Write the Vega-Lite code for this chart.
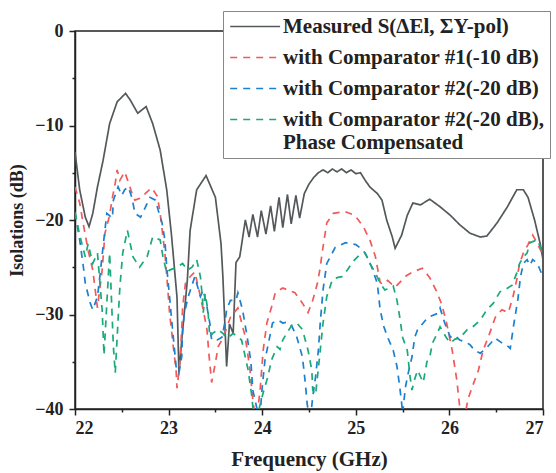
{
  "$schema": "https://vega.github.io/schema/vega-lite/v6.json",
  "width": 468,
  "height": 378,
  "autosize": {"type": "none"},
  "padding": {"left": 75, "top": 31, "right": 13, "bottom": 64},
  "background": "white",
  "config": {
    "view": {"stroke": "#222", "strokeWidth": 1.5},
    "font": "Liberation Serif"
  },
  "data": {"values": [
    {"s":"A","f":22.00,"v":-12.8},{"s":"A","f":22.05,"v":-16.8},{"s":"A","f":22.11,"v":-19.7},{"s":"A","f":22.15,"v":-20.7},{"s":"A","f":22.19,"v":-19.3},{"s":"A","f":22.24,"v":-16.5},{"s":"A","f":22.30,"v":-13.7},{"s":"A","f":22.37,"v":-9.8},{"s":"A","f":22.45,"v":-7.5},{"s":"A","f":22.54,"v":-6.6},{"s":"A","f":22.59,"v":-7.3},{"s":"A","f":22.67,"v":-8.7},{"s":"A","f":22.76,"v":-8.0},{"s":"A","f":22.83,"v":-9.8},{"s":"A","f":22.91,"v":-12.6},{"s":"A","f":22.98,"v":-16.8},{"s":"A","f":23.03,"v":-21.5},{"s":"A","f":23.09,"v":-28.2},{"s":"A","f":23.11,"v":-36.1},{"s":"A","f":23.15,"v":-31.7},{"s":"A","f":23.20,"v":-26.4},{"s":"A","f":23.23,"v":-21.1},{"s":"A","f":23.30,"v":-16.8},{"s":"A","f":23.40,"v":-15.3},{"s":"A","f":23.50,"v":-17.6},{"s":"A","f":23.56,"v":-22.5},{"s":"A","f":23.58,"v":-26.0},{"s":"A","f":23.62,"v":-35.5},{"s":"A","f":23.65,"v":-31.0},{"s":"A","f":23.69,"v":-32.0},{"s":"A","f":23.72,"v":-24.5},{"s":"A","f":23.76,"v":-23.9},{"s":"A","f":23.82,"v":-20.0},{"s":"A","f":23.86,"v":-21.8},{"s":"A","f":23.90,"v":-19.4},{"s":"A","f":23.95,"v":-21.8},{"s":"A","f":23.99,"v":-19.0},{"s":"A","f":24.04,"v":-21.5},{"s":"A","f":24.09,"v":-18.5},{"s":"A","f":24.13,"v":-21.2},{"s":"A","f":24.18,"v":-17.6},{"s":"A","f":24.22,"v":-20.8},{"s":"A","f":24.27,"v":-17.3},{"s":"A","f":24.31,"v":-20.4},{"s":"A","f":24.36,"v":-17.4},{"s":"A","f":24.40,"v":-19.8},{"s":"A","f":24.45,"v":-17.2},{"s":"A","f":24.50,"v":-16.2},{"s":"A","f":24.55,"v":-15.5},{"s":"A","f":24.60,"v":-15.0},{"s":"A","f":24.65,"v":-14.7},{"s":"A","f":24.70,"v":-15.0},{"s":"A","f":24.75,"v":-14.6},{"s":"A","f":24.80,"v":-14.9},{"s":"A","f":24.85,"v":-14.6},{"s":"A","f":24.90,"v":-15.0},{"s":"A","f":24.95,"v":-14.7},{"s":"A","f":25.00,"v":-15.1},{"s":"A","f":25.05,"v":-15.0},{"s":"A","f":25.10,"v":-15.8},{"s":"A","f":25.15,"v":-16.5},{"s":"A","f":25.23,"v":-17.2},{"s":"A","f":25.28,"v":-17.9},{"s":"A","f":25.33,"v":-20.0},{"s":"A","f":25.39,"v":-21.8},{"s":"A","f":25.42,"v":-23.0},{"s":"A","f":25.45,"v":-22.4},{"s":"A","f":25.49,"v":-21.6},{"s":"A","f":25.55,"v":-19.5},{"s":"A","f":25.61,"v":-18.2},{"s":"A","f":25.69,"v":-18.4},{"s":"A","f":25.79,"v":-17.8},{"s":"A","f":25.90,"v":-18.6},{"s":"A","f":26.01,"v":-19.5},{"s":"A","f":26.11,"v":-20.5},{"s":"A","f":26.22,"v":-21.4},{"s":"A","f":26.33,"v":-21.8},{"s":"A","f":26.40,"v":-21.7},{"s":"A","f":26.51,"v":-20.3},{"s":"A","f":26.62,"v":-18.6},{"s":"A","f":26.72,"v":-16.8},{"s":"A","f":26.79,"v":-16.8},{"s":"A","f":26.84,"v":-17.6},{"s":"A","f":26.91,"v":-20.0},{"s":"A","f":26.97,"v":-22.5},{"s":"A","f":27.00,"v":-24.2},
    {"s":"B","f":22.00,"v":-16.5},{"s":"B","f":22.05,"v":-18.2},{"s":"B","f":22.09,"v":-20.5},{"s":"B","f":22.14,"v":-23.2},{"s":"B","f":22.19,"v":-25.3},{"s":"B","f":22.24,"v":-29.3},{"s":"B","f":22.29,"v":-25.3},{"s":"B","f":22.32,"v":-21.4},{"s":"B","f":22.37,"v":-19.5},{"s":"B","f":22.40,"v":-17.6},{"s":"B","f":22.43,"v":-16.1},{"s":"B","f":22.45,"v":-14.7},{"s":"B","f":22.48,"v":-15.8},{"s":"B","f":22.53,"v":-14.9},{"s":"B","f":22.57,"v":-16.0},{"s":"B","f":22.61,"v":-17.2},{"s":"B","f":22.64,"v":-17.9},{"s":"B","f":22.72,"v":-17.6},{"s":"B","f":22.75,"v":-17.2},{"s":"B","f":22.82,"v":-16.6},{"s":"B","f":22.88,"v":-17.5},{"s":"B","f":22.91,"v":-19.3},{"s":"B","f":22.94,"v":-21.8},{"s":"B","f":22.96,"v":-23.5},{"s":"B","f":22.99,"v":-27.1},{"s":"B","f":23.01,"v":-29.8},{"s":"B","f":23.05,"v":-33.4},{"s":"B","f":23.08,"v":-35.9},{"s":"B","f":23.09,"v":-37.8},{"s":"B","f":23.12,"v":-35.1},{"s":"B","f":23.14,"v":-31.6},{"s":"B","f":23.15,"v":-29.2},{"s":"B","f":23.18,"v":-26.7},{"s":"B","f":23.23,"v":-26.0},{"s":"B","f":23.28,"v":-25.5},{"s":"B","f":23.34,"v":-28.1},{"s":"B","f":23.37,"v":-29.5},{"s":"B","f":23.41,"v":-31.6},{"s":"B","f":23.43,"v":-34.1},{"s":"B","f":23.46,"v":-37.2},{"s":"B","f":23.50,"v":-35.1},{"s":"B","f":23.53,"v":-33.4},{"s":"B","f":23.57,"v":-32.7},{"s":"B","f":23.60,"v":-32.0},{"s":"B","f":23.66,"v":-30.3},{"s":"B","f":23.74,"v":-29.3},{"s":"B","f":23.82,"v":-32.4},{"s":"B","f":23.87,"v":-35.9},{"s":"B","f":23.90,"v":-39.0},{"s":"B","f":23.93,"v":-41.5},{"s":"B","f":23.96,"v":-39.5},{"s":"B","f":23.98,"v":-37.7},{"s":"B","f":24.01,"v":-33.8},{"s":"B","f":24.05,"v":-30.9},{"s":"B","f":24.10,"v":-29.2},{"s":"B","f":24.14,"v":-27.7},{"s":"B","f":24.22,"v":-27.2},{"s":"B","f":24.35,"v":-27.7},{"s":"B","f":24.43,"v":-28.8},{"s":"B","f":24.49,"v":-29.8},{"s":"B","f":24.54,"v":-28.5},{"s":"B","f":24.59,"v":-26.7},{"s":"B","f":24.62,"v":-25.0},{"s":"B","f":24.64,"v":-23.5},{"s":"B","f":24.69,"v":-20.3},{"s":"B","f":24.76,"v":-19.3},{"s":"B","f":24.88,"v":-19.1},{"s":"B","f":24.99,"v":-19.5},{"s":"B","f":25.08,"v":-20.7},{"s":"B","f":25.15,"v":-22.1},{"s":"B","f":25.21,"v":-23.9},{"s":"B","f":25.26,"v":-26.6},{"s":"B","f":25.29,"v":-26.8},{"s":"B","f":25.34,"v":-26.4},{"s":"B","f":25.42,"v":-27.1},{"s":"B","f":25.47,"v":-26.6},{"s":"B","f":25.54,"v":-25.9},{"s":"B","f":25.61,"v":-25.5},{"s":"B","f":25.71,"v":-25.1},{"s":"B","f":25.79,"v":-26.1},{"s":"B","f":25.87,"v":-27.7},{"s":"B","f":25.92,"v":-29.0},{"s":"B","f":25.97,"v":-30.9},{"s":"B","f":26.03,"v":-33.8},{"s":"B","f":26.08,"v":-37.0},{"s":"B","f":26.11,"v":-39.8},{"s":"B","f":26.15,"v":-41.5},{"s":"B","f":26.20,"v":-38.9},{"s":"B","f":26.25,"v":-37.5},{"s":"B","f":26.31,"v":-35.9},{"s":"B","f":26.36,"v":-33.8},{"s":"B","f":26.43,"v":-32.0},{"s":"B","f":26.49,"v":-30.3},{"s":"B","f":26.56,"v":-29.5},{"s":"B","f":26.63,"v":-29.8},{"s":"B","f":26.68,"v":-28.1},{"s":"B","f":26.72,"v":-26.3},{"s":"B","f":26.75,"v":-24.6},{"s":"B","f":26.79,"v":-23.5},{"s":"B","f":26.84,"v":-22.6},{"s":"B","f":26.89,"v":-21.6},{"s":"B","f":26.94,"v":-22.5},{"s":"B","f":26.99,"v":-23.5},
    {"s":"C","f":22.00,"v":-19.2},{"s":"C","f":22.05,"v":-22.1},{"s":"C","f":22.09,"v":-25.0},{"s":"C","f":22.11,"v":-26.7},{"s":"C","f":22.16,"v":-28.7},{"s":"C","f":22.19,"v":-29.5},{"s":"C","f":22.24,"v":-28.1},{"s":"C","f":22.27,"v":-25.6},{"s":"C","f":22.30,"v":-22.8},{"s":"C","f":22.34,"v":-19.3},{"s":"C","f":22.40,"v":-19.8},{"s":"C","f":22.41,"v":-17.9},{"s":"C","f":22.46,"v":-16.5},{"s":"C","f":22.50,"v":-17.4},{"s":"C","f":22.53,"v":-16.8},{"s":"C","f":22.57,"v":-16.5},{"s":"C","f":22.61,"v":-17.7},{"s":"C","f":22.64,"v":-19.3},{"s":"C","f":22.70,"v":-19.7},{"s":"C","f":22.75,"v":-18.7},{"s":"C","f":22.80,"v":-17.6},{"s":"C","f":22.86,"v":-17.9},{"s":"C","f":22.89,"v":-19.0},{"s":"C","f":22.93,"v":-20.3},{"s":"C","f":22.96,"v":-22.1},{"s":"C","f":22.98,"v":-25.0},{"s":"C","f":23.01,"v":-28.1},{"s":"C","f":23.03,"v":-30.3},{"s":"C","f":23.06,"v":-33.4},{"s":"C","f":23.08,"v":-35.5},{"s":"C","f":23.11,"v":-36.2},{"s":"C","f":23.14,"v":-34.5},{"s":"C","f":23.15,"v":-31.6},{"s":"C","f":23.17,"v":-29.8},{"s":"C","f":23.21,"v":-28.1},{"s":"C","f":23.25,"v":-26.9},{"s":"C","f":23.28,"v":-26.0},{"s":"C","f":23.34,"v":-28.1},{"s":"C","f":23.37,"v":-27.4},{"s":"C","f":23.41,"v":-29.2},{"s":"C","f":23.44,"v":-30.9},{"s":"C","f":23.46,"v":-32.7},{"s":"C","f":23.52,"v":-32.7},{"s":"C","f":23.57,"v":-32.4},{"s":"C","f":23.60,"v":-30.9},{"s":"C","f":23.62,"v":-29.5},{"s":"C","f":23.66,"v":-28.5},{"s":"C","f":23.72,"v":-28.5},{"s":"C","f":23.74,"v":-27.7},{"s":"C","f":23.79,"v":-29.5},{"s":"C","f":23.84,"v":-32.4},{"s":"C","f":23.88,"v":-35.1},{"s":"C","f":23.90,"v":-38.0},{"s":"C","f":23.94,"v":-39.8},{"s":"C","f":23.97,"v":-41.5},{"s":"C","f":24.00,"v":-37.7},{"s":"C","f":24.03,"v":-34.8},{"s":"C","f":24.08,"v":-32.4},{"s":"C","f":24.11,"v":-30.9},{"s":"C","f":24.17,"v":-30.6},{"s":"C","f":24.22,"v":-30.9},{"s":"C","f":24.27,"v":-30.8},{"s":"C","f":24.32,"v":-31.3},{"s":"C","f":24.37,"v":-32.4},{"s":"C","f":24.43,"v":-34.5},{"s":"C","f":24.46,"v":-37.2},{"s":"C","f":24.48,"v":-39.4},{"s":"C","f":24.51,"v":-41.5},{"s":"C","f":24.54,"v":-38.7},{"s":"C","f":24.57,"v":-36.6},{"s":"C","f":24.60,"v":-33.8},{"s":"C","f":24.62,"v":-30.9},{"s":"C","f":24.65,"v":-27.4},{"s":"C","f":24.69,"v":-24.6},{"s":"C","f":24.78,"v":-22.9},{"s":"C","f":24.89,"v":-22.4},{"s":"C","f":25.00,"v":-22.6},{"s":"C","f":25.08,"v":-23.2},{"s":"C","f":25.12,"v":-23.9},{"s":"C","f":25.17,"v":-25.0},{"s":"C","f":25.23,"v":-26.7},{"s":"C","f":25.26,"v":-29.5},{"s":"C","f":25.30,"v":-31.3},{"s":"C","f":25.34,"v":-32.4},{"s":"C","f":25.40,"v":-33.8},{"s":"C","f":25.44,"v":-35.5},{"s":"C","f":25.47,"v":-37.7},{"s":"C","f":25.49,"v":-39.4},{"s":"C","f":25.50,"v":-40.5},{"s":"C","f":25.53,"v":-37.7},{"s":"C","f":25.56,"v":-36.2},{"s":"C","f":25.60,"v":-34.5},{"s":"C","f":25.63,"v":-32.4},{"s":"C","f":25.66,"v":-31.6},{"s":"C","f":25.72,"v":-30.9},{"s":"C","f":25.77,"v":-30.3},{"s":"C","f":25.87,"v":-29.9},{"s":"C","f":25.90,"v":-29.3},{"s":"C","f":25.95,"v":-30.9},{"s":"C","f":26.01,"v":-32.4},{"s":"C","f":26.06,"v":-32.2},{"s":"C","f":26.11,"v":-32.7},{"s":"C","f":26.17,"v":-32.9},{"s":"C","f":26.22,"v":-33.2},{"s":"C","f":26.27,"v":-33.8},{"s":"C","f":26.33,"v":-34.1},{"s":"C","f":26.40,"v":-33.5},{"s":"C","f":26.49,"v":-32.5},{"s":"C","f":26.56,"v":-33.0},{"s":"C","f":26.63,"v":-33.4},{"s":"C","f":26.65,"v":-33.6},{"s":"C","f":26.69,"v":-30.9},{"s":"C","f":26.73,"v":-28.5},{"s":"C","f":26.76,"v":-26.0},{"s":"C","f":26.79,"v":-24.6},{"s":"C","f":26.83,"v":-24.2},{"s":"C","f":26.86,"v":-24.8},{"s":"C","f":26.89,"v":-24.2},{"s":"C","f":26.94,"v":-24.6},{"s":"C","f":26.99,"v":-25.8},{"s":"C","f":27.00,"v":-26.0},
    {"s":"D","f":22.00,"v":-19.2},{"s":"D","f":22.05,"v":-21.6},{"s":"D","f":22.11,"v":-23.9},{"s":"D","f":22.14,"v":-22.5},{"s":"D","f":22.19,"v":-24.6},{"s":"D","f":22.24,"v":-23.5},{"s":"D","f":22.29,"v":-29.5},{"s":"D","f":22.31,"v":-34.3},{"s":"D","f":22.35,"v":-27.0},{"s":"D","f":22.37,"v":-23.5},{"s":"D","f":22.41,"v":-33.4},{"s":"D","f":22.43,"v":-36.2},{"s":"D","f":22.46,"v":-30.6},{"s":"D","f":22.48,"v":-27.0},{"s":"D","f":22.51,"v":-23.5},{"s":"D","f":22.56,"v":-21.1},{"s":"D","f":22.62,"v":-23.9},{"s":"D","f":22.69,"v":-25.0},{"s":"D","f":22.77,"v":-23.9},{"s":"D","f":22.83,"v":-21.8},{"s":"D","f":22.91,"v":-22.1},{"s":"D","f":22.94,"v":-23.9},{"s":"D","f":22.98,"v":-25.6},{"s":"D","f":23.01,"v":-25.3},{"s":"D","f":23.09,"v":-25.0},{"s":"D","f":23.15,"v":-24.6},{"s":"D","f":23.20,"v":-25.3},{"s":"D","f":23.25,"v":-25.0},{"s":"D","f":23.30,"v":-24.2},{"s":"D","f":23.34,"v":-26.0},{"s":"D","f":23.36,"v":-28.1},{"s":"D","f":23.37,"v":-29.8},{"s":"D","f":23.39,"v":-27.8},{"s":"D","f":23.42,"v":-29.5},{"s":"D","f":23.44,"v":-32.4},{"s":"D","f":23.47,"v":-32.0},{"s":"D","f":23.53,"v":-31.6},{"s":"D","f":23.58,"v":-32.0},{"s":"D","f":23.63,"v":-32.5},{"s":"D","f":23.69,"v":-32.0},{"s":"D","f":23.74,"v":-32.4},{"s":"D","f":23.78,"v":-32.7},{"s":"D","f":23.85,"v":-35.9},{"s":"D","f":23.89,"v":-38.7},{"s":"D","f":23.90,"v":-39.8},{"s":"D","f":23.94,"v":-41.0},{"s":"D","f":24.01,"v":-38.3},{"s":"D","f":24.06,"v":-36.6},{"s":"D","f":24.10,"v":-34.8},{"s":"D","f":24.16,"v":-33.4},{"s":"D","f":24.19,"v":-33.7},{"s":"D","f":24.22,"v":-32.7},{"s":"D","f":24.26,"v":-32.0},{"s":"D","f":24.32,"v":-31.1},{"s":"D","f":24.37,"v":-30.9},{"s":"D","f":24.43,"v":-31.6},{"s":"D","f":24.46,"v":-32.7},{"s":"D","f":24.49,"v":-33.8},{"s":"D","f":24.53,"v":-35.9},{"s":"D","f":24.54,"v":-38.0},{"s":"D","f":24.57,"v":-38.5},{"s":"D","f":24.62,"v":-33.8},{"s":"D","f":24.65,"v":-30.9},{"s":"D","f":24.69,"v":-28.1},{"s":"D","f":24.75,"v":-26.3},{"s":"D","f":24.80,"v":-26.1},{"s":"D","f":24.85,"v":-26.0},{"s":"D","f":24.91,"v":-25.3},{"s":"D","f":24.97,"v":-24.4},{"s":"D","f":25.04,"v":-23.7},{"s":"D","f":25.10,"v":-23.5},{"s":"D","f":25.15,"v":-24.6},{"s":"D","f":25.21,"v":-25.6},{"s":"D","f":25.26,"v":-26.7},{"s":"D","f":25.31,"v":-27.4},{"s":"D","f":25.37,"v":-27.2},{"s":"D","f":25.40,"v":-27.0},{"s":"D","f":25.44,"v":-28.5},{"s":"D","f":25.47,"v":-30.3},{"s":"D","f":25.50,"v":-32.4},{"s":"D","f":25.55,"v":-33.8},{"s":"D","f":25.58,"v":-36.6},{"s":"D","f":25.60,"v":-38.0},{"s":"D","f":25.63,"v":-36.8},{"s":"D","f":25.66,"v":-35.9},{"s":"D","f":25.72,"v":-37.2},{"s":"D","f":25.76,"v":-35.0},{"s":"D","f":25.79,"v":-34.5},{"s":"D","f":25.82,"v":-33.0},{"s":"D","f":25.87,"v":-32.0},{"s":"D","f":25.90,"v":-31.3},{"s":"D","f":25.97,"v":-32.5},{"s":"D","f":26.01,"v":-33.0},{"s":"D","f":26.06,"v":-32.6},{"s":"D","f":26.11,"v":-32.5},{"s":"D","f":26.19,"v":-31.6},{"s":"D","f":26.25,"v":-31.3},{"s":"D","f":26.33,"v":-30.6},{"s":"D","f":26.40,"v":-29.5},{"s":"D","f":26.47,"v":-28.8},{"s":"D","f":26.54,"v":-27.6},{"s":"D","f":26.59,"v":-27.4},{"s":"D","f":26.67,"v":-26.9},{"s":"D","f":26.72,"v":-25.6},{"s":"D","f":26.75,"v":-24.6},{"s":"D","f":26.79,"v":-23.9},{"s":"D","f":26.83,"v":-23.5},{"s":"D","f":26.86,"v":-22.4},{"s":"D","f":26.94,"v":-22.1},{"s":"D","f":26.99,"v":-23.3}
  ]},
  "layer": [
    {
      "mark": {"type": "point", "opacity": 0},
      "encoding": {
        "x": {
          "field": "f", "type": "quantitative",
          "scale": {"domain": [22, 27], "nice": false, "zero": false},
          "axis": {
            "orient": "bottom", "title": null, "labels": false, "domain": false, "grid": false,
            "values": [22.5, 23.5, 24.5, 25.5, 26.5],
            "tickColor": "#222", "tickWidth": 1.5, "tickSize": 3
          }
        },
        "y": {
          "field": "v", "type": "quantitative",
          "scale": {"domain": [-40, 0], "nice": false, "zero": false},
          "axis": {
            "orient": "left", "title": null, "labels": false, "domain": false, "grid": false,
            "values": [-35, -25, -15, -5],
            "tickColor": "#222", "tickWidth": 1.5, "tickSize": 3
          }
        }
      }
    },
    {
      "mark": {"type": "line", "clip": true, "strokeWidth": 1.7},
      "encoding": {
        "x": {
          "field": "f", "type": "quantitative",
          "scale": {"domain": [22, 27], "nice": false, "zero": false},
          "axis": {
            "orient": "bottom",
            "title": "Frequency (GHz)",
            "values": [22, 23, 24, 25, 26, 27],
            "format": "d",
            "grid": false,
            "domainColor": "#222", "domainWidth": 1.5,
            "tickColor": "#222", "tickWidth": 1.5, "tickSize": 6,
            "labelFont": "Liberation Serif", "labelFontWeight": "bold", "labelFontSize": 18, "labelColor": "#222",
            "labelPadding": 4,
            "titleFont": "Liberation Serif", "titleFontWeight": "bold", "titleFontSize": 21, "titleColor": "#222",
            "titlePadding": 11
          }
        },
        "y": {
          "field": "v", "type": "quantitative",
          "scale": {"domain": [-40, 0], "nice": false, "zero": false},
          "axis": {
            "orient": "left",
            "title": "Isolations (dB)",
            "values": [-40, -30, -20, -10, 0],
            "grid": false,
            "domainColor": "#222", "domainWidth": 1.5,
            "tickColor": "#222", "tickWidth": 1.5, "tickSize": 6,
            "labelFont": "Liberation Serif", "labelFontWeight": "bold", "labelFontSize": 18, "labelColor": "#222",
            "labelPadding": 6,
            "titleFont": "Liberation Serif", "titleFontWeight": "bold", "titleFontSize": 18, "titleColor": "#222",
            "titlePadding": 8
          }
        },
        "color": {
          "field": "s", "type": "nominal",
          "scale": {"domain": ["A", "B", "C", "D"], "range": ["#53585b", "#f05a5a", "#1a80cf", "#19a97a"]},
          "legend": {
            "title": null,
            "orient": "none", "legendX": 148, "legendY": -20,
            "labelExpr": "datum.value === 'A' ? 'Measured S(ΔEl, ΣY-pol)' : datum.value === 'B' ? 'with Comparator #1(-10 dB)' : datum.value === 'C' ? 'with Comparator #2(-20 dB)' : ['with Comparator #2(-20 dB),', 'Phase Compensated']",
            "symbolType": "M-1.5,0H7.5", "symbolSize": 123, "symbolStrokeWidth": 1.7, "symbolFillColor": "transparent",
            "labelFont": "Liberation Serif", "labelFontWeight": "bold", "labelFontSize": 21, "labelColor": "#222",
            "labelLimit": 500, "labelOffset": 34,
            "padding": 5, "rowPadding": 9,
            "strokeColor": "#888", "fillColor": "white"
          }
        },
        "strokeDash": {
          "field": "s", "type": "nominal",
          "scale": {"domain": ["A", "B", "C", "D"], "range": [[1, 0], [7, 6], [7, 6], [7, 6]]},
          "legend": null
        }
      }
    }
  ],
  "resolve": {"axis": {"x": "independent", "y": "independent"}}
}
